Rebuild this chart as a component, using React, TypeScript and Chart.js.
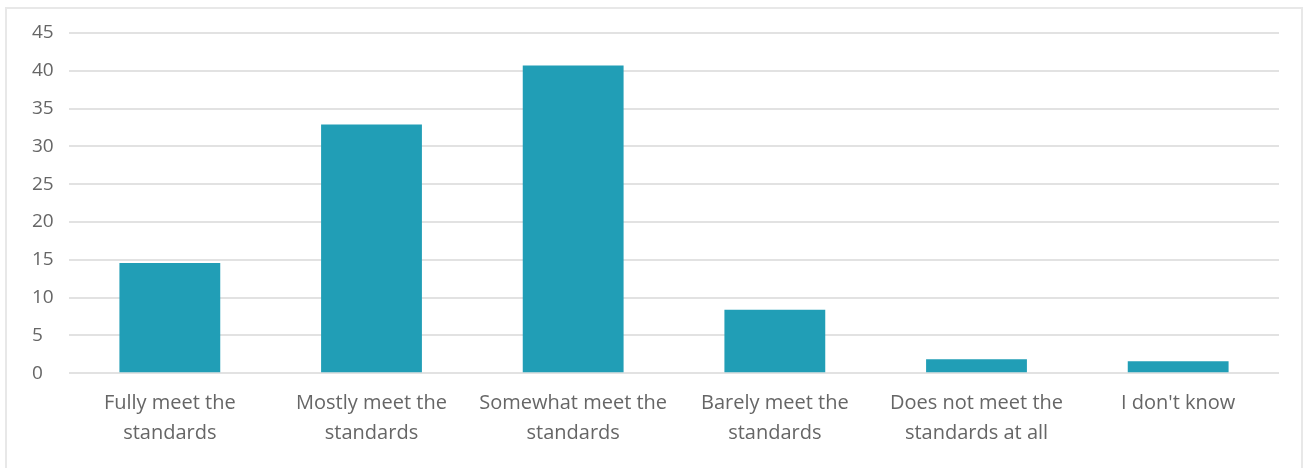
import React, { useEffect, useRef } from "react";
import { Chart, registerables } from "chart.js";

Chart.register(...registerables);

// Response categories (two-line labels) and their counts
const categories: string[][] = [
  ["Fully meet the", "standards"],
  ["Mostly meet the", "standards"],
  ["Somewhat meet the", "standards"],
  ["Barely meet the", "standards"],
  ["Does not meet the", "standards at all"],
  ["I don't know"],
];
const responses: number[] = [14.6, 32.9, 40.7, 8.4, 1.85, 1.6];

const yMax = 45;
const yStep = 5;

const BAR_COLOR = "#219eb6";
const GRID_COLOR = "#e2e2e2";
const TEXT_COLOR = "#666666";
const FONT_FAMILY = "'Open Sans', 'Noto Sans', sans-serif";

export default function App() {
  const canvasRef = useRef<HTMLCanvasElement | null>(null);

  useEffect(() => {
    if (!canvasRef.current) return;
    const chart = new Chart(canvasRef.current, {
      type: "bar",
      data: {
        labels: categories,
        datasets: [
          {
            data: responses,
            backgroundColor: BAR_COLOR,
            borderWidth: 0,
            categoryPercentage: 1,
            barPercentage: 0.5,
          },
        ],
      },
      options: {
        responsive: false,
        animation: false,
        layout: { padding: { left: 32, right: 27, top: 33, bottom: 0 } },
        plugins: {
          legend: { display: false },
          tooltip: { enabled: false },
        },
        scales: {
          x: {
            grid: { display: false, drawTicks: false },
            border: { display: false },
            ticks: {
              color: TEXT_COLOR,
              font: { family: FONT_FAMILY, size: 20, lineHeight: 1.5 },
              padding: 14.7,
              maxRotation: 0,
              autoSkip: false,
            },
            afterFit: (scale: any) => {
              scale.height = 94.7;
            },
          },
          y: {
            min: 0,
            max: yMax,
            ticks: {
              stepSize: yStep,
              color: TEXT_COLOR,
              crossAlign: "far",
              padding: 14,
              font: { family: FONT_FAMILY, size: 19 },
            },
            grid: { color: GRID_COLOR, lineWidth: 2, drawTicks: false },
            border: { display: false },
            afterFit: (scale: any) => {
              scale.width = 37;
            },
          },
        },
      },
    });
    return () => chart.destroy();
  }, []);

  return (
    <div
      style={{
        position: "fixed",
        left: 0,
        top: 0,
        width: 1306,
        height: 468,
        background: "#ffffff",
      }}
    >
      <div
        style={{
          position: "absolute",
          left: 5,
          top: 7,
          width: 1298,
          height: 470,
          border: "2px solid #e8e8e8",
          boxSizing: "border-box",
        }}
      />
      <canvas
        ref={canvasRef}
        width={1306}
        height={468}
        style={{ position: "absolute", left: 0, top: 0, display: "block" }}
      />
    </div>
  );
}
